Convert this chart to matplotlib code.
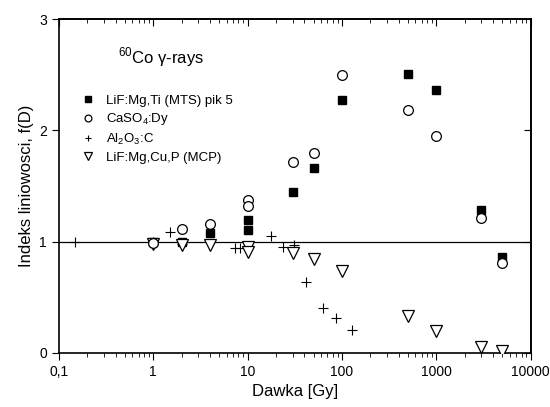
import matplotlib
matplotlib.use("Agg")
import matplotlib.pyplot as plt
from matplotlib.ticker import LogLocator, NullFormatter

plt.rcParams['font.family'] = ['Liberation Sans', 'DejaVu Sans']
plt.rcParams['mathtext.fontset'] = 'custom'
plt.rcParams['mathtext.rm'] = 'Liberation Sans'

# LiF:Mg,Ti (MTS) pik 5
mts_x = [1, 2, 4, 10, 10, 30, 50, 100, 500, 1000, 3000, 5000]
mts_y = [1.0, 1.0, 1.08, 1.19, 1.10, 1.45, 1.66, 2.27, 2.51, 2.36, 1.28, 0.86]
# CaSO4:Dy
cas_x = [1, 2, 4, 10, 10, 30, 50, 100, 500, 1000, 3000, 5000]
cas_y = [0.99, 1.11, 1.16, 1.37, 1.32, 1.72, 1.80, 2.50, 2.18, 1.95, 1.21, 0.81]
# Al2O3:C
alo_x = [0.15, 1, 1.5, 2, 7.3, 8.3, 17.6, 23.5, 31, 42, 63, 86, 127]
alo_y = [1.0, 1.0, 1.09, 0.98, 0.94, 0.94, 1.05, 0.955, 0.97, 0.64, 0.40, 0.31, 0.21]
# LiF:Mg,Cu,P (MCP)
mcp_x = [1, 2, 4, 10, 10, 30, 50, 100, 500, 1000, 3000, 5000]
mcp_y = [0.98, 0.97, 0.97, 0.95, 0.91, 0.90, 0.84, 0.74, 0.33, 0.20, 0.05, 0.02]

xticks = [0.1, 1, 10, 100, 1000, 10000]
xtick_labels = ["0,1", "1", "10", "100", "1000", "10000"]
yticks = [0, 1, 2, 3]

fig = plt.figure(figsize=(5.5, 4.07), dpi=100)
ax = fig.add_axes([0.107, 0.133, 0.858, 0.82])

ax.axhline(1.0, color='black', lw=0.9, zorder=1)

ax.plot(mts_x, mts_y, 's', color='black', ms=6, label='LiF:Mg,Ti (MTS) pik 5', zorder=3)
ax.plot(cas_x, cas_y, 'o', mfc='white', mec='black', mew=0.9, ms=7, label='CaSO$_4$:Dy', zorder=4)
ax.plot(alo_x, alo_y, '+', color='black', ms=7, mew=0.8, label='Al$_2$O$_3$:C', zorder=3)
ax.plot(mcp_x, mcp_y, 'v', mfc='white', mec='black', mew=0.9, ms=8, label='LiF:Mg,Cu,P (MCP)', zorder=3)

ax.set_xscale('log')
ax.set_xlim(0.1, 10000)
ax.set_ylim(0, 3)
ax.set_xticks(xticks)
ax.set_xticklabels(xtick_labels)
ax.xaxis.set_minor_locator(LogLocator(base=10, subs=range(2, 10)))
ax.xaxis.set_minor_formatter(NullFormatter())
ax.set_yticks(yticks)
ax.set_yticklabels([str(v) for v in yticks])

ax.tick_params(axis='x', which='major', bottom=True, direction='out', length=5, labelsize=10)
ax.tick_params(axis='x', which='minor', bottom=True, direction='out', length=3)
ax.tick_params(axis='y', which='major', left=True, direction='out', length=5, labelsize=10)
for sp in ax.spines.values():
    sp.set_linewidth(1.2)

# top and right ticks pointing inward
axt = ax.secondary_xaxis('top')
axt.set_xticks(xticks)
axt.xaxis.set_minor_locator(LogLocator(base=10, subs=range(2, 10)))
axt.tick_params(axis='x', which='major', direction='in', length=5, labeltop=False)
axt.tick_params(axis='x', which='minor', direction='in', length=3, labeltop=False)
axt.spines['top'].set_linewidth(1.2)
axr = ax.secondary_yaxis('right')
axr.set_yticks(yticks)
axr.tick_params(axis='y', direction='in', length=5, labelright=False)
axr.spines['right'].set_linewidth(1.2)

ax.set_xlabel('Dawka [Gy]', fontsize=12)
ax.set_ylabel('Indeks liniowosci, f(D)', fontsize=12)

ax.text(0.42, 2.6, '$^{60}$Co γ-rays', fontsize=12)

leg = ax.legend(loc='upper left', bbox_to_anchor=(0.015, 0.81), frameon=False,
                fontsize=9.5, handletextpad=0.6, labelspacing=0.35, handlelength=1.5,
                markerscale=0.7)

fig.savefig('out.png', dpi=100)
